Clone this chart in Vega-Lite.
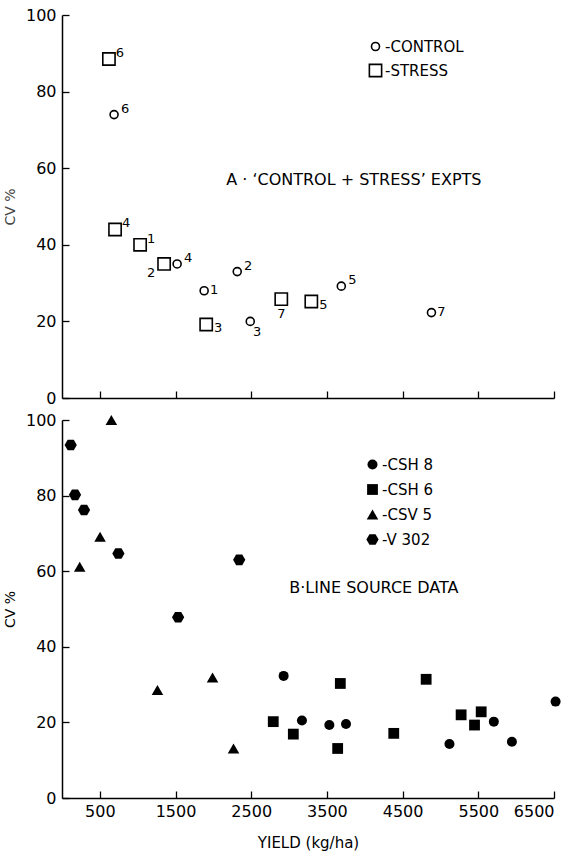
{
  "$schema": "https://vega.github.io/schema/vega-lite/v6.json",
  "background": "white",
  "padding": {"left": 3, "top": 7, "right": 2, "bottom": 5},
  "bounds": "flush",
  "spacing": 22,
  "config": {
    "view": {"stroke": null},
    "font": "DejaVu Sans",
    "axis": {
      "grid": false,
      "domainColor": "black",
      "domainWidth": 1.5,
      "tickColor": "black",
      "tickWidth": 1.3,
      "tickSize": -7,
      "labelColor": "black",
      "labelFontSize": 16,
      "labelFont": "DejaVu Sans",
      "format": "d",
      "titleColor": "black",
      "titleFont": "DejaVu Sans",
      "titleFontSize": 14,
      "titleFontWeight": "normal"
    },
    "legend": {
      "labelFont": "DejaVu Sans",
      "labelFontSize": 15,
      "labelColor": "black",
      "padding": 0
    }
  },
  "resolve": {"scale": {"shape": "independent", "size": "independent"}, "legend": {"shape": "independent", "size": "independent"}},
  "vconcat": [
    {
      "width": 492,
      "height": 383,
      "data": {
        "values": [
          {"treatment": "STRESS", "exp": "6", "yield": 620, "cv": 88.5},
          {"treatment": "CONTROL", "exp": "6", "yield": 688, "cv": 74},
          {"treatment": "STRESS", "exp": "4", "yield": 701, "cv": 44},
          {"treatment": "STRESS", "exp": "1", "yield": 1032, "cv": 40},
          {"treatment": "STRESS", "exp": "2", "yield": 1349, "cv": 35},
          {"treatment": "CONTROL", "exp": "4", "yield": 1521, "cv": 35},
          {"treatment": "CONTROL", "exp": "1", "yield": 1878, "cv": 28},
          {"treatment": "CONTROL", "exp": "2", "yield": 2315, "cv": 33},
          {"treatment": "STRESS", "exp": "3", "yield": 1905, "cv": 19.2},
          {"treatment": "CONTROL", "exp": "3", "yield": 2487, "cv": 20},
          {"treatment": "STRESS", "exp": "7", "yield": 2897, "cv": 25.8},
          {"treatment": "STRESS", "exp": "5", "yield": 3294, "cv": 25.2},
          {"treatment": "CONTROL", "exp": "5", "yield": 3690, "cv": 29.2},
          {"treatment": "CONTROL", "exp": "7", "yield": 4881, "cv": 22.3}
        ]
      },
      "layer": [
        {
          "mark": {"type": "point", "filled": false, "stroke": "black", "strokeWidth": 1.6, "opacity": 1},
          "encoding": {
            "x": {"field": "yield", "type": "quantitative", "scale": {"domain": [0, 6500], "nice": false, "zero": false},
              "axis": {"values": [500, 1500, 2500, 3500, 4500, 5500, 6500], "labels": false, "title": null}},
            "y": {"field": "cv", "type": "quantitative", "scale": {"domain": [0, 100], "nice": false},
              "axis": {"values": [0, 20, 40, 60, 80, 100], "title": "CV %", "titleColor": "#444", "labelPadding": 13, "titlePadding": 8}},
            "shape": {"field": "treatment", "type": "nominal",
              "scale": {"domain": ["CONTROL", "STRESS"], "range": ["circle", "square"]},
              "legend": {"orient": "none", "legendX": 306, "legendY": 24, "title": null, "labelExpr": "'-' + datum.label", "rowPadding": 6, "labelOffset": 2, "symbolStrokeWidth": 1.6}},
            "size": {"field": "treatment", "type": "nominal",
              "scale": {"domain": ["CONTROL", "STRESS"], "range": [64, 150]},
              "legend": {"orient": "none", "legendX": 306, "legendY": 24, "title": null, "labelExpr": "'-' + datum.label", "rowPadding": 6, "labelOffset": 2, "symbolStrokeWidth": 1.6}}
          }
        },
        {
          "transform": [{"filter": "indexof(['S6','C6','S4','S1','C4','C2','C5'], datum.treatment[0] + datum.exp) >= 0"}],
          "mark": {"type": "text", "fontSize": 13, "dx": 11, "dy": -6, "align": "center", "baseline": "middle", "color": "black"},
          "encoding": {"x": {"field": "yield", "type": "quantitative"}, "y": {"field": "cv", "type": "quantitative"}, "text": {"field": "exp"}}
        },
        {
          "transform": [{"filter": "indexof(['C1','C7'], datum.treatment[0] + datum.exp) >= 0"}],
          "mark": {"type": "text", "fontSize": 13, "dx": 10, "dy": -1, "align": "center", "baseline": "middle", "color": "black"},
          "encoding": {"x": {"field": "yield", "type": "quantitative"}, "y": {"field": "cv", "type": "quantitative"}, "text": {"field": "exp"}}
        },
        {
          "transform": [{"filter": "indexof(['S3','S5'], datum.treatment[0] + datum.exp) >= 0"}],
          "mark": {"type": "text", "fontSize": 13, "dx": 12, "dy": 4, "align": "center", "baseline": "middle", "color": "black"},
          "encoding": {"x": {"field": "yield", "type": "quantitative"}, "y": {"field": "cv", "type": "quantitative"}, "text": {"field": "exp"}}
        },
        {
          "transform": [{"filter": "datum.treatment[0] + datum.exp == 'C3'"}],
          "mark": {"type": "text", "fontSize": 13, "dx": 7, "dy": 11, "align": "center", "baseline": "middle", "color": "black"},
          "encoding": {"x": {"field": "yield", "type": "quantitative"}, "y": {"field": "cv", "type": "quantitative"}, "text": {"field": "exp"}}
        },
        {
          "transform": [{"filter": "datum.treatment[0] + datum.exp == 'S7'"}],
          "mark": {"type": "text", "fontSize": 13, "dx": 0, "dy": 15, "align": "center", "baseline": "middle", "color": "black"},
          "encoding": {"x": {"field": "yield", "type": "quantitative"}, "y": {"field": "cv", "type": "quantitative"}, "text": {"field": "exp"}}
        },
        {
          "transform": [{"filter": "datum.treatment[0] + datum.exp == 'S2'"}],
          "mark": {"type": "text", "fontSize": 13, "dx": -13, "dy": 9, "align": "center", "baseline": "middle", "color": "black"},
          "encoding": {"x": {"field": "yield", "type": "quantitative"}, "y": {"field": "cv", "type": "quantitative"}, "text": {"field": "exp"}}
        },
        {
          "data": {"values": [{"note": "A · ‘CONTROL  +  STRESS’  EXPTS"}]},
          "mark": {"type": "text", "fontSize": 16, "align": "left", "baseline": "middle", "color": "black"},
          "encoding": {"x": {"datum": 2169, "type": "quantitative"}, "y": {"datum": 57, "type": "quantitative"}, "text": {"field": "note"}}
        }
      ]
    },
    {
      "width": 492,
      "height": 378,
      "data": {
        "values": [
          {"variety": "V 302", "yield": 115, "cv": 93.4},
          {"variety": "V 302", "yield": 172, "cv": 80.2},
          {"variety": "V 302", "yield": 291, "cv": 76.2},
          {"variety": "V 302", "yield": 745, "cv": 64.7},
          {"variety": "V 302", "yield": 1534, "cv": 47.8},
          {"variety": "V 302", "yield": 2341, "cv": 63},
          {"variety": "CSV 5", "yield": 652, "cv": 100},
          {"variety": "CSV 5", "yield": 234, "cv": 61.2},
          {"variety": "CSV 5", "yield": 503, "cv": 69.1},
          {"variety": "CSV 5", "yield": 1261, "cv": 28.6},
          {"variety": "CSV 5", "yield": 1989, "cv": 31.9},
          {"variety": "CSV 5", "yield": 2266, "cv": 13.1},
          {"variety": "CSH 6", "yield": 2791, "cv": 20.2},
          {"variety": "CSH 6", "yield": 3056, "cv": 16.9},
          {"variety": "CSH 6", "yield": 3677, "cv": 30.3},
          {"variety": "CSH 6", "yield": 3642, "cv": 13.1},
          {"variety": "CSH 6", "yield": 4383, "cv": 17.1},
          {"variety": "CSH 6", "yield": 4811, "cv": 31.4},
          {"variety": "CSH 6", "yield": 5273, "cv": 22},
          {"variety": "CSH 6", "yield": 5450, "cv": 19.3},
          {"variety": "CSH 6", "yield": 5538, "cv": 22.8},
          {"variety": "CSH 8", "yield": 2928, "cv": 32.3},
          {"variety": "CSH 8", "yield": 3170, "cv": 20.5},
          {"variety": "CSH 8", "yield": 3532, "cv": 19.3},
          {"variety": "CSH 8", "yield": 3752, "cv": 19.6},
          {"variety": "CSH 8", "yield": 5119, "cv": 14.3},
          {"variety": "CSH 8", "yield": 5705, "cv": 20.2},
          {"variety": "CSH 8", "yield": 5944, "cv": 14.9},
          {"variety": "CSH 8", "yield": 6521, "cv": 25.5}
        ]
      },
      "layer": [
        {
          "mark": {"type": "point", "filled": true, "color": "black", "opacity": 1},
          "encoding": {
            "x": {"field": "yield", "type": "quantitative", "scale": {"domain": [0, 6500], "nice": false, "zero": false},
              "axis": {"values": [500, 1500, 2500, 3500, 4500, 5500, 6500], "title": "YIELD (kg/ha)", "titleFontSize": 15, "labelPadding": 12, "titlePadding": 16}},
            "y": {"field": "cv", "type": "quantitative", "scale": {"domain": [0, 100], "nice": false},
              "axis": {"values": [0, 20, 40, 60, 80, 100], "title": "CV %", "labelPadding": 13, "titlePadding": 8}},
            "shape": {"field": "variety", "type": "nominal",
              "scale": {"domain": ["CSH 8", "CSH 6", "CSV 5", "V 302"], "range": ["circle", "square", "triangle-up", "M-1,0L-0.5,-0.866L0.5,-0.866L1,0L0.5,0.866L-0.5,0.866Z"]},
              "legend": {"orient": "none", "legendX": 303, "legendY": 37, "title": null, "labelExpr": "'-' + datum.label", "rowPadding": 8, "labelOffset": 2}},
            "size": {"field": "variety", "type": "nominal",
              "scale": {"domain": ["CSH 8", "CSH 6", "CSV 5", "V 302"], "range": [100, 150, 130, 290]},
              "legend": {"orient": "none", "legendX": 303, "legendY": 37, "title": null, "labelExpr": "'-' + datum.label", "rowPadding": 8, "labelOffset": 2}}
          }
        },
        {
          "data": {"values": [{"note": "B·LINE  SOURCE  DATA"}]},
          "mark": {"type": "text", "fontSize": 16, "align": "left", "baseline": "middle", "color": "black"},
          "encoding": {"x": {"datum": 3003, "type": "quantitative"}, "y": {"datum": 55.6, "type": "quantitative"}, "text": {"field": "note"}}
        }
      ]
    }
  ]
}
